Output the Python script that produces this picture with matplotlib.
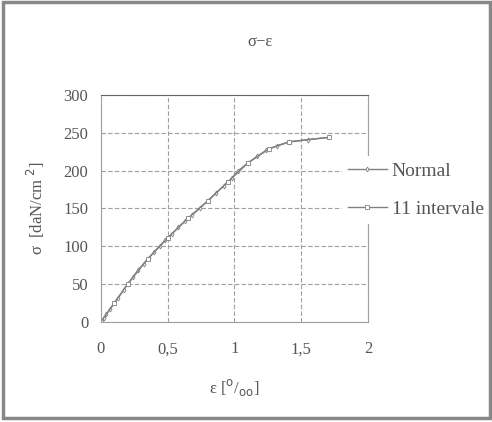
import matplotlib
matplotlib.use('Agg')
import matplotlib.pyplot as plt
from matplotlib.patches import Rectangle

# stress-strain data
eps_normal = [0, 0.02, 0.04, 0.07, 0.1, 0.13, 0.17, 0.2, 0.24, 0.28, 0.32, 0.36, 0.4,
              0.44, 0.48, 0.53, 0.58, 0.63, 0.68, 0.74, 0.8, 0.86, 0.92, 0.98, 1.03,
              1.1, 1.17, 1.24, 1.32, 1.41, 1.55, 1.71]
sig_normal = [0, 5, 10, 17, 25, 32, 42, 50, 59, 69, 77, 85, 93,
              100, 108, 116, 125, 133, 141, 150, 160, 170, 180, 190, 200,
              210, 219, 227, 233, 238, 241, 244]
eps_11 = [0, 0.1, 0.2, 0.35, 0.5, 0.65, 0.8, 0.95, 1.1, 1.26, 1.41, 1.71]
sig_11 = [0, 25, 50, 83, 111, 137, 160, 185, 210, 229, 238, 244]
legends = ['Normal', '11 intervale']

plt.rcParams['font.family'] = ['Liberation Serif', 'DejaVu Serif']

fig = plt.figure(figsize=(4.92, 4.22), dpi=100)
ax = fig.add_axes([0.205, 0.237, 0.543, 0.538])

line_col = '#808080'
ax.plot(eps_normal, sig_normal, color=line_col, linewidth=1.0, marker='d',
        markersize=2.5, markerfacecolor='white', markeredgewidth=0.6, label=legends[0])
ax.plot(eps_11, sig_11, color=line_col, linewidth=1.0, marker='s',
        markersize=2.5, markerfacecolor='white', markeredgewidth=0.6, label=legends[1])

ax.set_xlim(0, 2)
ax.set_ylim(0, 300)
ax.set_xticks([0, 0.5, 1, 1.5, 2])
ax.set_xticklabels(['0', '0,5', '1', '1,5', '2'])
ax.set_yticks(range(0, 301, 50))
ax.tick_params(axis='both', length=0, labelsize=12, colors='#555555')
ax.tick_params(axis='y', pad=9)
ax.tick_params(axis='x', pad=14)
ax.grid(True, color='#a0a0a0', linewidth=0.8, linestyle=(0, (4, 2)))
for s in ax.spines.values():
    s.set_color('#a0a0a0')
    s.set_linewidth(0.8)
ax.spines['top'].set_color('#666666')

fig.text(260 / 492, 1 - 42 / 422, 'σ−ε', fontsize=12, color='#555555',
         ha='center', va='center')
ax.set_xlabel('ε [$^{\\mathrm{o}}$/$_{\\mathrm{oo}}$]', fontsize=12, color='#555555', labelpad=14)
ax.set_ylabel('σ  [daN/cm $^{\\mathrm{2}}$]', fontsize=12, color='#555555', labelpad=12)

leg = fig.legend(loc='center left', bbox_to_anchor=(0.695, 0.55), fontsize=14,
                 handlelength=2.0, handletextpad=0.25, labelspacing=1.05,
                 frameon=True, facecolor='white', edgecolor='none', framealpha=1,
                 borderpad=0.3, borderaxespad=0)
for t in leg.get_texts():
    t.set_color('#555555')

# scanned frame
fig.add_artist(Rectangle((0.006, 0.01), 0.99, 0.985, transform=fig.transFigure,
                         fill=False, edgecolor='#888888', linewidth=2.5, zorder=10))

plt.savefig('out.png', dpi=100)
